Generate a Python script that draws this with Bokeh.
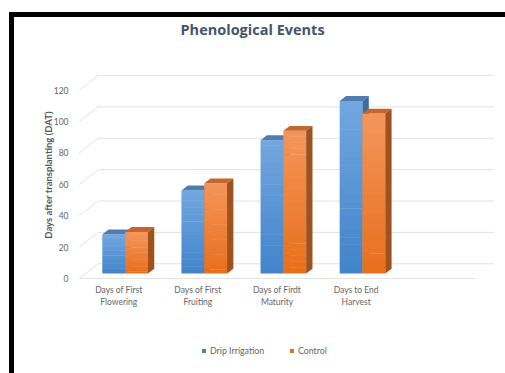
import numpy as np
from bokeh.plotting import figure
from bokeh.layouts import column
from bokeh.models import Range1d, FixedTicker, Title, Legend, LegendItem
from bokeh.embed import file_html
from bokeh.resources import INLINE

# ---------------- data ----------------
categories = ["Days of First\nFlowering", "Days of First\nFruiting",
              "Days of Firdt\nMaturity", "Days to End\nHarvest"]
drip_irrigation = [25, 53, 85, 110]
control = [26.5, 57.5, 91, 102]
y_ticks = [0, 20, 40, 60, 80, 100, 120]
series_names = ["Drip Irrigation", "Control"]

# ---------------- style ----------------
FONT = "Lato"
DX, DY = 0.24, 9.4          # depth offset of the 3D box (data units)
W = 0.288                   # bar width
X0, X1 = 0.5, 5.5           # floor extent
NSTRIP = 24
colors = {
    "Drip Irrigation": dict(bottom="#4283CA", top="#72A7DF", roof="#4F7DB0", side="#3E6C9C"),
    "Control": dict(bottom="#E76F1C", top="#F5955B", roof="#C2672D", side="#A0521E"),
}
grid_color = "#E2E2E2"


def hex2rgb(h):
    h = h.lstrip("#")
    return np.array([int(h[i:i + 2], 16) for i in (0, 2, 4)], dtype=float)


def rgb2hex(c):
    return "#%02x%02x%02x" % tuple(int(round(v)) for v in c)


p = figure(width=491, height=296, output_backend="svg", toolbar_location=None,
           x_range=Range1d(0.465, 5.749), y_range=Range1d(-1.26, 133.2),
           min_border_left=62, min_border_right=11, min_border_top=49, min_border_bottom=33)
p.title = None
p.outline_line_color = None
p.xgrid.visible = False
p.ygrid.visible = False
p.background_fill_color = "white"
p.border_fill_color = "white"

# ---- walls: back-wall gridlines, side-wall diagonals, front floor edge ----
ticks = np.array(y_ticks, dtype=float)
p.segment(x0=[X0 + DX] * len(ticks), y0=ticks + DY, x1=[X1 + DX] * len(ticks), y1=ticks + DY,
          line_color=grid_color, line_width=1)
p.segment(x0=[X0] * len(ticks), y0=ticks, x1=[X0 + DX] * len(ticks), y1=ticks + DY,
          line_color=grid_color, line_width=1)
p.segment(x0=[X0], y0=[0], x1=[X1], y1=[0], line_color=grid_color, line_width=1)

# ---- bars ----
for s, (name, vals) in enumerate(zip(series_names, [drip_irrigation, control])):
    col = colors[name]
    cb, ct = hex2rgb(col["bottom"]), hex2rgb(col["top"])
    xs = np.arange(1, len(vals) + 1, dtype=float)
    left = xs - W + s * W + DX / 3
    right = left + W
    bottom = np.full(len(vals), DY / 3)
    top = np.array(vals, dtype=float) + DY / 3
    # front faces with vertical gradient
    L, R, B, T, C = [], [], [], [], []
    for i in range(len(vals)):
        edges = np.linspace(bottom[i], top[i], NSTRIP + 1)
        for k in range(NSTRIP):
            f = (k + 0.5) / NSTRIP
            L.append(left[i]); R.append(right[i])
            B.append(edges[k]); T.append(edges[k + 1] + (0 if k == NSTRIP - 1 else 0.3))
            C.append(rgb2hex(cb + (ct - cb) * f))
    p.quad(left=L, right=R, bottom=B, top=T, fill_color=C, line_color=None)
    # roof (top face)
    roof_xs = [[l, r, r + DX / 3, l + DX / 3] for l, r in zip(left, right)]
    roof_ys = [[t, t, t + DY / 3, t + DY / 3] for t in top]
    p.patches(xs=roof_xs, ys=roof_ys, fill_color=col["roof"], line_color=None)
    # right side face
    side_xs = [[r, r + DX / 3, r + DX / 3, r] for r in right]
    side_ys = [[b, b + DY / 3, t + DY / 3, t] for b, t in zip(bottom, top)]
    p.patches(xs=side_xs, ys=side_ys, fill_color=col["side"], line_color=None)

# ---- axes ----
p.yaxis.ticker = FixedTicker(ticks=y_ticks)
p.yaxis.axis_line_color = None
p.yaxis.major_tick_line_color = None
p.yaxis.minor_tick_line_color = None
p.yaxis.major_label_standoff = 2
p.yaxis.major_label_text_font = FONT
p.yaxis.major_label_text_font_size = "8.5px"
p.yaxis.major_label_text_color = "#666666"
p.yaxis.axis_label = "Days after transplanting (DAT)"
p.yaxis.axis_label_text_font = FONT
p.yaxis.axis_label_text_font_style = "bold"
p.yaxis.axis_label_text_font_size = "9.5px"
p.yaxis.axis_label_text_color = "#555555"
p.yaxis.axis_label_standoff = -3

p.xaxis.ticker = FixedTicker(ticks=list(range(1, len(categories) + 1)))
p.xaxis.major_label_overrides = {i + 1: c for i, c in enumerate(categories)}
p.xaxis.axis_line_color = None
p.xaxis.major_tick_line_color = None
p.xaxis.minor_tick_line_color = None
p.xaxis.major_label_standoff = -2
p.xaxis.major_label_text_font = FONT
p.xaxis.major_label_text_font_size = "8.5px"
p.xaxis.major_label_text_color = "#666666"
p.xaxis.major_label_text_line_height = 1.25

# ---- title (a blank spacer title sits between the frame and the real title) ----
p.add_layout(Title(text=" ", text_font_size="10px", standoff=18), "above")
p.add_layout(Title(text="Phenological Events", align="left", offset=104, standoff=0,
                   text_font="Open Sans", text_font_size="14.5px", text_font_style="bold",
                   text_color="#44546A"), "above")

# ---- legend strip (second figure under the chart) ----
p2 = figure(width=491, height=60, output_backend="svg", toolbar_location=None,
            x_range=Range1d(0, 1), y_range=Range1d(0, 1), min_border=0)
p2.axis.visible = False
p2.xgrid.visible = False
p2.ygrid.visible = False
p2.outline_line_color = None
p2.background_fill_color = "white"
p2.border_fill_color = "white"
# zero-area swatch renderers (they only feed the legend)
swatches = {n: p2.quad(left=[0], right=[0], bottom=[0], top=[0], fill_color=colors[n]["bottom"],
                       line_color=None) for n in series_names}
legend = Legend(items=[LegendItem(label=n, renderers=[swatches[n]]) for n in series_names],
                orientation="horizontal", location=(125, 17),
                border_line_color=None, background_fill_alpha=0,
                glyph_width=5, glyph_height=5, label_height=10, label_width=60,
                label_standoff=4, spacing=19, padding=0, margin=0,
                label_text_font=FONT, label_text_font_size="8.8px", label_text_color="#666666")
p2.add_layout(legend)

inner = column(p, p2, spacing=0, margin=(5, 0, 0, 5), styles={"background-color": "white"})
page = column(inner, margin=(12, 0, 0, 9), styles={"background-color": "black"})

open("out.html", "w").write(file_html(page, INLINE))
